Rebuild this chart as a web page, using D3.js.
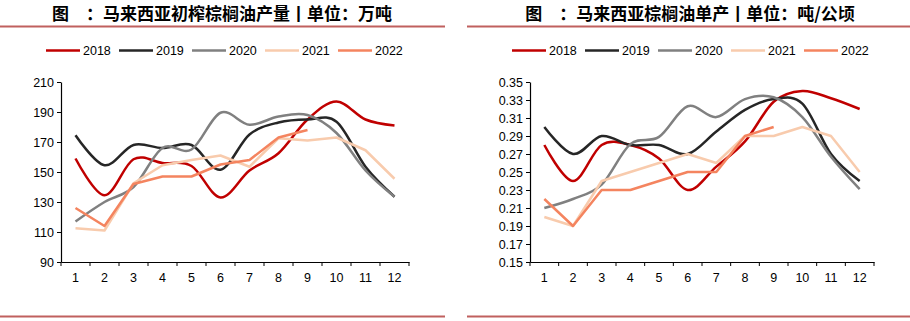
<!DOCTYPE html>
<html>
<head>
<meta charset="utf-8">
<script src="https://cdn.jsdelivr.net/npm/d3@7"></script>
<style>
  html, body { margin: 0; padding: 0; background: #fff; }
  svg { display: block; }
</style>
</head>
<body>
<svg id="chart" width="910" height="321"></svg>
<script>
// Months along the x axis
const months = [1, 2, 3, 4, 5, 6, 7, 8, 9, 10, 11, 12];
const years = ["2018", "2019", "2020", "2021", "2022"];

// Crude palm oil production, 10k tonnes
const prod2018 = [159, 134.5, 158.5, 156, 154, 133, 151, 162.5, 185, 197, 185, 181];
const prod2019 = [174.5, 154.5, 168, 166, 168, 151.5, 175, 183, 185, 183.5, 153.5, 133.5];
const prod2020 = [117, 130, 140, 166, 165, 189.5, 181.5, 187, 188, 176, 151, 133.5];
const prod2021 = [112.5, 111, 142.5, 154.5, 158, 161, 153.5, 172.5, 171, 173, 164.5, 145.5];
const prod2022 = [126, 114, 142, 147, 147, 155, 158, 173, 178];
const prodTicks = [90, 110, 130, 150, 170, 190, 210];

// Yield, tonnes per hectare
const yield2018 = [0.28, 0.24, 0.28, 0.28, 0.265, 0.23, 0.256, 0.284, 0.328, 0.34, 0.332, 0.32];
const yield2019 = [0.30, 0.27, 0.29, 0.28, 0.28, 0.27, 0.295, 0.319, 0.331, 0.326, 0.27, 0.24];
const yield2020 = [0.21, 0.22, 0.236, 0.281, 0.289, 0.323, 0.311, 0.331, 0.333, 0.311, 0.267, 0.231];
const yield2021 = [0.20, 0.19, 0.24, 0.25, 0.26, 0.27, 0.26, 0.29, 0.29, 0.30, 0.29, 0.25];
const yield2022 = [0.22, 0.19, 0.23, 0.23, 0.24, 0.25, 0.25, 0.29, 0.30];
const yieldTicks = [0.15, 0.17, 0.19, 0.21, 0.23, 0.25, 0.27, 0.29, 0.31, 0.33, 0.35];

const colors = { "2018": "#C00000", "2019": "#262626", "2020": "#808080", "2021": "#F8CBAD", "2022": "#F4845F" };
const smooth = { "2018": true, "2019": true, "2020": true, "2021": false, "2022": false };

const svg = d3.select("#chart");
const FONT = "'Liberation Sans', Arial, sans-serif";
const CJK = "'Noto Sans CJK SC', sans-serif";

function drawPanel(cfg) {
  const g = svg.append("g");

  // Title and rules
  g.append("text")
    .attr("x", cfg.titleX).attr("y", 20)
    .attr("text-anchor", "middle")
    .attr("font-family", CJK).attr("font-weight", "bold").attr("font-size", 17)
    .attr("fill", "#000")
    .text(cfg.title);
  g.append("line").attr("x1", cfg.ruleX0).attr("x2", cfg.ruleX1).attr("y1", 26.5).attr("y2", 26.5)
    .attr("stroke", "#C0605E").attr("stroke-width", 2);
  g.append("line").attr("x1", cfg.ruleX0).attr("x2", cfg.ruleX1).attr("y1", 316.5).attr("y2", 316.5)
    .attr("stroke", "#C0605E").attr("stroke-width", 2);

  // Legend
  years.forEach((yr, i) => {
    const lx = cfg.legendX + i * 73;
    g.append("line").attr("x1", lx).attr("x2", lx + 34).attr("y1", 50.5).attr("y2", 50.5)
      .attr("stroke", colors[yr]).attr("stroke-width", 2.5);
    g.append("text").attr("x", lx + 37).attr("y", 55)
      .attr("font-family", FONT).attr("font-size", 12.5).attr("fill", "#000")
      .text(yr);
  });

  const x = d3.scaleBand().domain(months).range([cfg.x0, cfg.x1]);
  const y = d3.scaleLinear().domain(cfg.domain).range([262, 82]);

  // Y axis
  const yAxis = g.append("g").attr("transform", `translate(${cfg.x0},0)`)
    .call(d3.axisLeft(y).tickValues(cfg.ticks).tickSize(4).tickSizeOuter(0).tickFormat(cfg.fmt));
  yAxis.select(".domain").attr("stroke", "#000").attr("stroke-width", 1.2);
  yAxis.selectAll(".tick line").attr("stroke", "#000");
  yAxis.selectAll("text").attr("font-family", FONT).attr("font-size", 12.5).attr("fill", "#000").attr("x", -7);

  // X axis with ticks at band edges
  const xAxis = g.append("g").attr("transform", "translate(0,262)")
    .call(d3.axisBottom(x).tickSize(0).tickPadding(11));
  xAxis.select(".domain").attr("stroke", "#000").attr("stroke-width", 1.2);
  xAxis.selectAll("text").attr("font-family", FONT).attr("font-size", 12.5).attr("fill", "#000");
  const edges = months.map(m => x(m)).concat([cfg.x1]);
  xAxis.selectAll(".edge").data(edges).enter().append("line")
    .attr("x1", d => d).attr("x2", d => d).attr("y1", 0).attr("y2", 4)
    .attr("stroke", "#000");

  // Series
  const series = cfg.series;
  years.forEach(yr => {
    const vals = series[yr];
    const line = d3.line()
      .x((d, i) => x(months[i]) + x.bandwidth() / 2)
      .y(d => y(d))
      .curve(smooth[yr] ? d3.curveCardinal.tension(0) : d3.curveLinear);
    g.append("path").datum(vals)
      .attr("d", line)
      .attr("fill", "none")
      .attr("stroke", colors[yr])
      .attr("stroke-width", 2.5)
      .attr("stroke-linejoin", "round");
  });
}

drawPanel({
  title: "图　：马来西亚初榨棕榈油产量丨单位：万吨",
  titleX: 222, ruleX0: 0, ruleX1: 445, legendX: 46,
  x0: 61, x1: 409, domain: [90, 210], ticks: prodTicks, fmt: d3.format("d"),
  series: { "2018": prod2018, "2019": prod2019, "2020": prod2020, "2021": prod2021, "2022": prod2022 }
});

drawPanel({
  title: "图　：马来西亚棕榈油单产丨单位：吨/公顷",
  titleX: 690, ruleX0: 467, ruleX1: 910, legendX: 512,
  x0: 530, x1: 874, domain: [0.15, 0.35], ticks: yieldTicks, fmt: d3.format(".2f"),
  series: { "2018": yield2018, "2019": yield2019, "2020": yield2020, "2021": yield2021, "2022": yield2022 }
});
</script>
</body>
</html>
